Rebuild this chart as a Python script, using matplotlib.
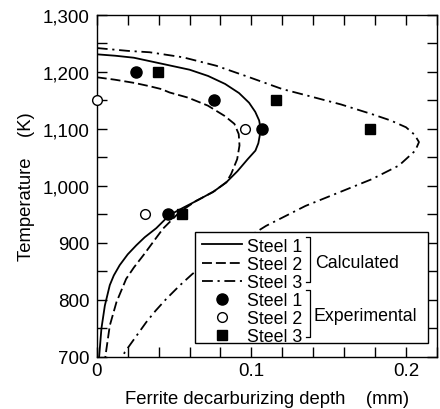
import numpy as np
import matplotlib.pyplot as plt
from matplotlib.patches import Rectangle
from matplotlib.ticker import MultipleLocator, FuncFormatter

plt.rcParams['font.family'] = ['Liberation Sans', 'DejaVu Sans']

# calculated curves (temperature K, depth mm)
t_calc1 = [1231, 1228.5, 1225, 1218, 1211, 1204, 1193, 1179, 1163, 1146, 1130,
           1115, 1103, 1090, 1075, 1062, 1047, 1026, 1007, 991, 976, 962, 949,
           926, 910, 896, 880, 861, 843, 826, 790, 750, 700]
d_calc1 = [0.0, 0.012, 0.024, 0.036, 0.048, 0.060, 0.072, 0.083, 0.092, 0.0985,
           0.1025, 0.105, 0.1058, 0.1055, 0.1045, 0.1026, 0.0976, 0.091, 0.084,
           0.076, 0.066, 0.056, 0.047, 0.0385, 0.031, 0.0256, 0.020, 0.0148,
           0.011, 0.0084, 0.0052, 0.003, 0.0015]

t_calc2 = [1190.7, 1186.5, 1180.7, 1175, 1170, 1164, 1155, 1141, 1123, 1109, 1091,
           1071, 1047, 1021, 1006, 989, 974, 954, 925, 900, 878, 857, 837, 796,
           755, 700]
d_calc2 = [0.0, 0.0116, 0.0245, 0.0342, 0.0417, 0.0471, 0.059, 0.0718, 0.0826,
           0.089, 0.0918, 0.0923, 0.0908, 0.0869, 0.0837, 0.075, 0.0643, 0.0535,
           0.0428, 0.036, 0.030, 0.024, 0.019, 0.0127, 0.0084, 0.0055]

t_calc3 = [1242, 1237, 1234.6, 1225.8, 1211, 1190.7, 1170, 1158, 1143, 1126, 1115,
           1103, 1090, 1077, 1062, 1036, 1012, 989, 965, 930, 919, 846, 825, 802,
           781, 761, 708, 700]
d_calc3 = [0.0, 0.0202, 0.0342, 0.0557, 0.0772, 0.0987, 0.120, 0.137, 0.158, 0.178,
           0.190, 0.200, 0.2055, 0.2084, 0.206, 0.1955, 0.178, 0.157, 0.135, 0.1095,
           0.103, 0.062, 0.0535, 0.045, 0.038, 0.032, 0.018, 0.017]

# experimental points
t_exp1 = [1200, 1150, 1100, 950]
d_exp1 = [0.0256, 0.076, 0.107, 0.046]
t_exp2 = [1150, 1100, 950]
d_exp2 = [0.0, 0.096, 0.031]
t_exp3 = [1200, 1150, 1100, 950]
d_exp3 = [0.0396, 0.116, 0.177, 0.055]

labels = ['Steel 1', 'Steel 2', 'Steel 3']

fig = plt.figure(figsize=(4.4, 4.1), dpi=100)
ax = fig.add_axes([0.220, 0.127, 0.773, 0.834])

lw = 1.3
h1, = ax.plot(d_calc1, t_calc1, color='black', lw=lw, linestyle='-')
h2, = ax.plot(d_calc2, t_calc2, color='black', lw=lw, linestyle=(0, (5.5, 2.2)))
h3, = ax.plot(d_calc3, t_calc3, color='black', lw=lw, linestyle=(0, (6, 2.6, 1.2, 2.6)))

m1, = ax.plot(d_exp1, t_exp1, 'o', color='black', ms=8, zorder=4, clip_on=False)
m2, = ax.plot(d_exp2, t_exp2, 'o', mfc='white', mec='black', mew=1.0, ms=7,
              zorder=4, clip_on=False)
m3, = ax.plot(d_exp3, t_exp3, 's', color='black', ms=7.5, zorder=4, clip_on=False)

ax.set_xlim(0, 0.22)
ax.set_ylim(700, 1300)
ax.xaxis.set_major_locator(MultipleLocator(0.1))
ax.xaxis.set_minor_locator(MultipleLocator(0.02))
ax.yaxis.set_major_locator(MultipleLocator(100))
ax.yaxis.set_minor_locator(MultipleLocator(50))
ax.xaxis.set_major_formatter(FuncFormatter(lambda v, p: '0' if v == 0 else f'{v:g}'))
ax.yaxis.set_major_formatter(FuncFormatter(lambda v, p: f'{v:,.0f}'))
ax.tick_params(which='both', direction='in', top=True, right=True, length=7,
               width=1, labelsize=13.5)
ax.tick_params(axis='x', pad=3.5)
ax.tick_params(axis='y', pad=5.5)
for s in ax.spines.values():
    s.set_linewidth(1)

ax.set_xlabel('Ferrite decarburizing depth    (mm)', fontsize=13.3, labelpad=8)
ax.set_ylabel('Temperature    (K)', fontsize=13.3, labelpad=5)

# legend frame, handles, brackets
ax.add_patch(Rectangle((0.290, 0.041), 0.684, 0.325, transform=ax.transAxes,
                       facecolor='white', edgecolor='black', lw=1, zorder=5))
leg = ax.legend([h1, h2, h3, m1, m2, m3], labels + labels, loc='upper left',
                bbox_to_anchor=(0.308, 0.349), borderaxespad=0, borderpad=0,
                frameon=False, fontsize=12.8, labelspacing=0.065,
                handlelength=2.25, handletextpad=0.3)
leg.set_zorder(6)

def bracket(y0, y1, x=0.6265, tick=0.012):
    ax.plot([x - tick, x, x, x - tick], [y1, y1, y0, y0], color='black', lw=0.9,
            transform=ax.transAxes, zorder=7, clip_on=False)

bracket((358 - 283.3) / 342, (358 - 238.3) / 342)
bracket((358 - 338.3) / 342, (358 - 291) / 342)
ax.text(0.642, (358 - 263.3) / 342, 'Calculated', transform=ax.transAxes,
        fontsize=12.8, va='center', ha='left', zorder=7)
ax.text(0.636, (358 - 316.7) / 342, 'Experimental', transform=ax.transAxes,
        fontsize=12.8, va='center', ha='left', zorder=7)

fig.savefig('out.png', dpi=100)
